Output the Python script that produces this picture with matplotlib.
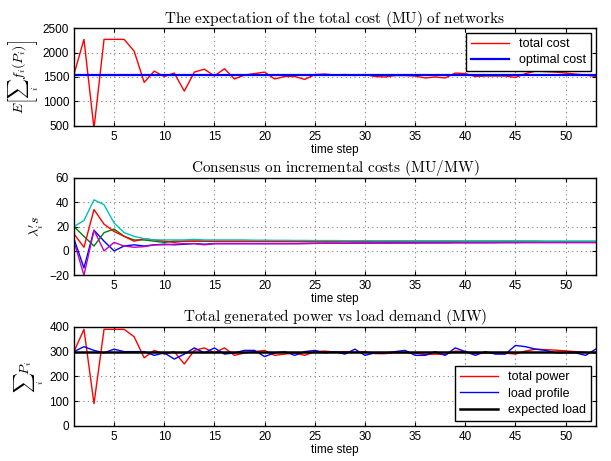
import matplotlib
matplotlib.use("Agg")
import matplotlib.pyplot as plt
import numpy as np

plt.rcParams['font.family'] = ['Liberation Sans', 'DejaVu Sans']
plt.rcParams['mathtext.fontset'] = 'cm'

steps = np.arange(1, 54)

total_cost = [1550, 2270, 450, 2270, 2270, 2270, 2030, 1390, 1620, 1510,
              1580, 1210, 1600, 1660, 1520, 1670, 1460, 1540, 1570, 1600,
              1460, 1510, 1510, 1450, 1550, 1560, 1540, 1550, 1530, 1550,
              1510, 1500, 1530, 1530, 1520, 1480, 1500, 1480, 1580, 1570,
              1510, 1520, 1520, 1520, 1490, 1570, 1620, 1610, 1600, 1580,
              1560, 1540, 1510]
optimal_cost = 1540

lam_blue = [10, -14, 17, 8, 0, 4, 5, 4, 5, 5.5, 5, 5.5, 6, 5.5, 6, 6, 6, 6, 6, 6,
            6, 6, 6, 6, 6.2, 6.3, 6.3, 6.2, 6.4, 6.5, 6.5, 6.5, 6.6, 6.6, 6.6, 6.7,
            6.7, 6.7, 6.8, 6.8, 6.8, 6.8, 6.9, 6.9, 6.9, 7, 7, 7, 7, 7, 7, 7, 7]
lam_green = [20, 12, 4, 15, 18, 12, 9, 9, 8, 7, 8, 8, 8, 8, 8, 8, 8, 8, 8, 8,
             8, 8, 8, 8, 8, 8, 8, 8, 8, 8, 8, 8, 8, 8, 8, 8, 8, 8, 8, 8,
             8, 8, 8, 8, 8, 8, 8, 7.8, 7.8, 7.8, 7.8, 7.8, 7.8]
lam_red = [14, 3, 34, 22, 16, 12, 8, 10, 9, 8, 7, 8, 8, 8, 7.8, 7.8, 7.8, 7.8, 7.8, 7.8,
           7.7, 7.7, 7.7, 7.7, 7.6, 7.6, 7.6, 7.6, 7.6, 7.5, 7.5, 7.5, 7.5, 7.5, 7.5, 7.5,
           7.5, 7.5, 7.5, 7.5, 7.5, 7.5, 7.5, 7.5, 7.5, 7.5, 7.5, 7.5, 7.5, 7.5, 7.5, 7.5, 7.5]
lam_cyan = [20, 25, 42, 38, 23, 15, 12, 10, 9, 9, 9, 9, 9.5, 9, 9, 9, 9, 9, 8.8, 8.8,
            8.7, 8.7, 8.6, 8.6, 8.5, 8.5, 8.5, 8.4, 8.4, 8.4, 8.3, 8.3, 8.3, 8.3, 8.2, 8.2,
            8.2, 8.2, 8.2, 8.1, 8.1, 8.1, 8.1, 8.1, 8.1, 8, 8, 8, 8, 8, 8, 8, 8]
lam_magenta = [8, -20, 17, 0, 7, 4, 3, 3.5, 5, 5, 5.5, 6, 6, 5, 6, 6, 6, 6, 6, 6,
               6, 6, 6, 6.2, 6.2, 6.3, 6.3, 6.3, 6.4, 6.4, 6.5, 6.5, 6.5, 6.5, 6.6, 6.6,
               6.6, 6.6, 6.7, 6.7, 6.7, 6.7, 6.7, 6.8, 6.8, 6.8, 6.8, 6.8, 6.8, 6.8, 6.8, 6.8, 6.8]

total_power = [300, 390, 90, 390, 390, 390, 360, 275, 305, 290,
               300, 250, 305, 315, 295, 315, 285, 295, 300, 305,
               285, 290, 295, 285, 300, 302, 298, 300, 297, 300,
               292, 292, 296, 296, 294, 288, 290, 288, 302, 300,
               292, 294, 295, 294, 290, 302, 310, 308, 306, 303,
               300, 297, 293]
load_profile = [300, 320, 305, 295, 310, 300, 300, 300, 285, 295,
                270, 290, 315, 295, 315, 290, 295, 305, 305, 280,
                295, 300, 285, 300, 305, 295, 300, 290, 310, 285,
                295, 295, 300, 305, 285, 285, 300, 285, 315, 300,
                285, 300, 290, 290, 325, 320, 310, 305, 295, 295,
                295, 285, 310]
expected_load = 300


def style(ax, title, ylabel, yticks):
    ax.set_xlim(1, 53)
    ax.set_xticks(np.arange(5, 55, 5))
    ax.set_ylim(yticks[0], yticks[-1])
    ax.set_yticks(yticks)
    ax.grid(True, linestyle=(0, (1, 3)), color='0.5', linewidth=0.8)
    ax.tick_params(direction='in', top=True, right=True, labelsize=8.5, length=3)
    for s in ax.spines.values():
        s.set_linewidth(1.0)
    ax.set_xlabel('time step', fontsize=8.5, labelpad=1)
    ax.set_title(title, fontsize=11, pad=4)
    ax.set_ylabel(ylabel, fontsize=10, labelpad=2)


def add_legend(ax, loc):
    leg = ax.legend(loc=loc, fontsize=9, fancybox=False, framealpha=1,
                    edgecolor='black', handlelength=3, borderaxespad=0.4,
                    labelspacing=0.35)
    leg.get_frame().set_linewidth(1.0)


def main():
    fig = plt.figure(figsize=(6.11, 4.61), dpi=100)
    left, width = 0.121, 0.854
    ax1 = fig.add_axes([left, 0.727, width, 0.212])
    ax2 = fig.add_axes([left, 0.403, width, 0.211])
    ax3 = fig.add_axes([left, 0.076, width, 0.215])

    ax1.plot(steps, total_cost, color='red', lw=1.0, label='total cost')
    ax1.axhline(optimal_cost, color='blue', lw=1.6, label='optimal cost')
    style(ax1, r'$\mathrm{The\ expectation\ of\ the\ total\ cost\ (MU)\ of\ networks}$',
          r'$E\left[\sum_i f_i(P_i)\right]$', np.arange(500, 2501, 500))
    add_legend(ax1, 'upper right')

    for vals, c in [(lam_blue, 'blue'), (lam_green, 'green'), (lam_red, 'red'),
                    (lam_cyan, 'c'), (lam_magenta, 'm')]:
        ax2.plot(steps, vals, color=c, lw=1.0)
    style(ax2, r'$\mathrm{Consensus\ on\ incremental\ costs\ (MU/MW)}$',
          r"$\lambda_i's$", np.arange(-20, 61, 20))

    ax3.plot(steps, total_power, color='red', lw=1.0, label='total power')
    ax3.plot(steps, load_profile, color='blue', lw=1.0, label='load profile')
    ax3.axhline(expected_load, color='black', lw=1.8, label='expected load')
    style(ax3, r'$\mathrm{Total\ generated\ power\ vs\ load\ demand\ (MW)}$',
          r'$\sum_i P_i$', np.arange(0, 401, 100))
    add_legend(ax3, 'lower right')

    fig.savefig('out.png', dpi=100)


if __name__ == "__main__":
    main()
